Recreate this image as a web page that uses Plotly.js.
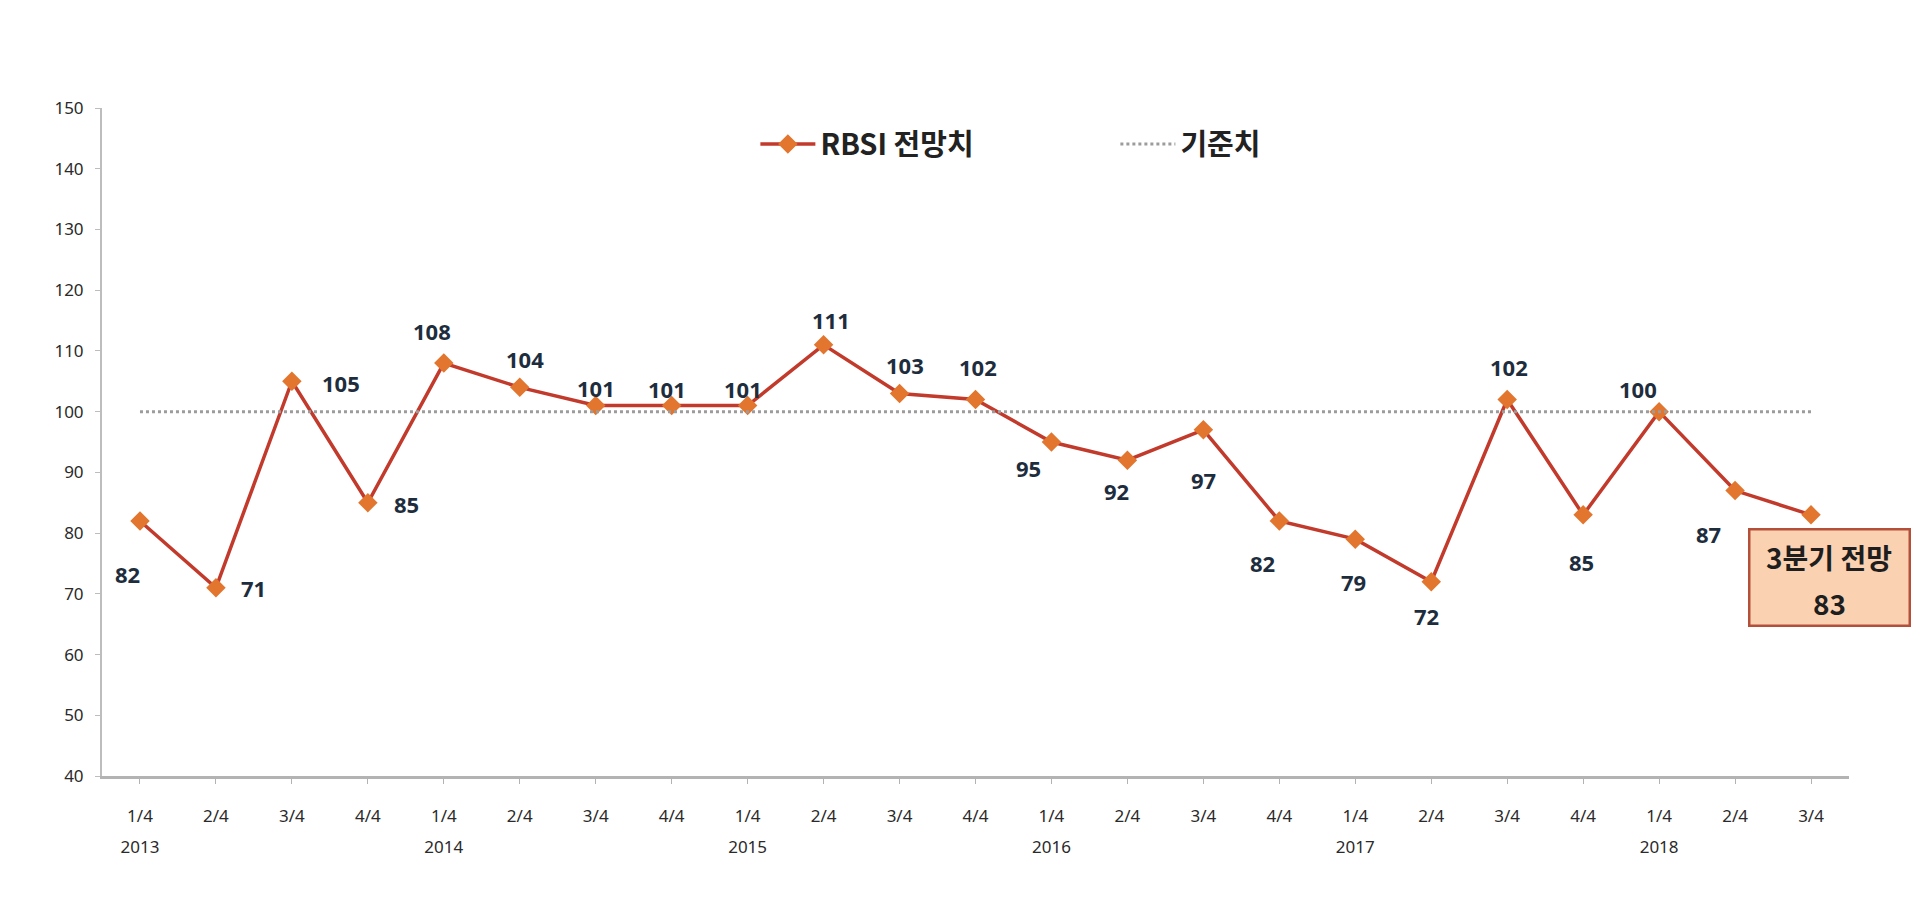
<!DOCTYPE html>
<html>
<head>
<meta charset="utf-8">
<script src="https://cdn.plot.ly/plotly-3.0.1.min.js"></script>
<style>
  html, body { margin: 0; padding: 0; background: #fff; }
  #chart { width: 1920px; height: 904px; }
</style>
</head>
<body>
<div id="chart"></div>
<script>
// quarters, with the year shown under each 1/4
var quarters = ["1/4", "2/4", "3/4", "4/4", "1/4", "2/4", "3/4", "4/4", "1/4", "2/4", "3/4", "4/4",
                "1/4", "2/4", "3/4", "4/4", "1/4", "2/4", "3/4", "4/4", "1/4", "2/4", "3/4"];
var years = ["2013", "", "", "", "2014", "", "", "", "2015", "", "", "",
             "2016", "", "", "", "2017", "", "", "", "2018", "", ""];
var rbsi = [82, 71, 105, 85, 108, 104, 101, 101, 101, 111, 103, 102,
            95, 92, 97, 82, 79, 72, 102, 83, 100, 87, 83];
var rbsiLabels = ["82", "71", "105", "85", "108", "104", "101", "101", "101", "111", "103", "102",
                  "95", "92", "97", "82", "79", "72", "102", "85", "100", "87", ""];
var baseValue = 100;
var outlookTitle = "3분기 전망";
var outlookValue = "83";

// where each value label sits relative to its point (px)
var labelShift = [[-12, -53], [38, 0], [49, -2], [39, -1], [-12, 32], [5, 28], [0, 18], [-5, 17],
                  [-5, 17], [7, 25], [5, 28], [2, 32], [-23, -26], [-11, -31], [0, -50], [-17, -42],
                  [-2, -43], [-5, -34], [2, 32], [-2, -47], [-21, 23], [-27, -43], [0, 0]];

var cats = quarters.map(function(q, i) { return i; });
var yearIdx = [];
years.forEach(function(y, i) { if (y) yearIdx.push(i); });

var trace1 = {
    x: cats,
    y: rbsi,
    type: "scatter",
    mode: "lines+markers",
    name: "RBSI 전망치",
    line: { color: "#C23A2B", width: 3.5 },
    marker: { symbol: "diamond", size: 15, color: "#E2762E" }
};

var trace2 = {
    x: [cats[0], cats[cats.length - 1]],
    y: [baseValue, baseValue],
    type: "scatter",
    mode: "lines",
    name: "기준치",
    line: { color: "#9C9C9C", width: 3, dash: "dot" }
};

// carries the year row on its own x axis, draws nothing
var yearTrace = {
    x: yearIdx,
    y: yearIdx.map(function(i) { return rbsi[i]; }),
    xaxis: "x2",
    type: "scatter",
    mode: "none",
    showlegend: false,
    hoverinfo: "skip"
};

var labelFont = { family: "Noto Sans, Noto Sans CJK KR, sans-serif", size: 22, color: "#1E2D3D", weight: 700 };

var annotations = rbsiLabels.map(function(t, i) {
    return {
        x: cats[i], y: rbsi[i], xref: "x", yref: "y",
        text: "<b>" + t + "</b>", showarrow: false,
        xshift: labelShift[i][0], yshift: labelShift[i][1],
        font: labelFont
    };
}).filter(function(a) { return a.text !== "<b></b>"; });

// outlook box under the last point
var last = cats.length - 1;
var boxFont = { family: "Noto Sans CJK KR, sans-serif", size: 28, color: "#1E1E1E" };
annotations.push({
    x: cats[last], y: rbsi[last], xref: "x", yref: "y",
    text: " ", showarrow: false,
    xshift: 18, yshift: -63,
    width: 150, height: 86,
    bgcolor: "#FAD2B2", bordercolor: "#B4503A", borderwidth: 2.5, borderpad: 4,
    font: boxFont
});
annotations.push({
    x: cats[last], y: rbsi[last], xref: "x", yref: "y",
    text: "<b>" + outlookTitle + "</b>", showarrow: false,
    xshift: 18, yshift: -42, font: boxFont
});
annotations.push({
    x: cats[last], y: rbsi[last], xref: "x", yref: "y",
    text: "<b>" + outlookValue + "</b>", showarrow: false,
    xshift: 18, yshift: -88, font: boxFont
});

var tickFont = { family: "Noto Sans, sans-serif", size: 17, color: "#2A2A2A" };

var layout = {
    width: 1920,
    height: 904,
    margin: { l: 102, r: 71, t: 108, b: 128 },
    paper_bgcolor: "#fff",
    plot_bgcolor: "#fff",
    showlegend: true,
    legend: {
        orientation: "h",
        x: 0.374, y: 0.946, xanchor: "left", yanchor: "middle",
        entrywidth: 290,
        itemwidth: 55,
        font: { family: "Noto Sans CJK KR, sans-serif", size: 29, color: "#222", weight: 700 },
        bgcolor: "rgba(0,0,0,0)"
    },
    xaxis: {
        range: [-0.5, 22.5],
        tickmode: "array",
        tickvals: cats,
        ticktext: quarters,
        showgrid: false,
        zeroline: false,
        showline: true,
        linecolor: "#B3B3B3",
        linewidth: 3,
        ticks: "outside",
        tickson: "boundaries",
        ticklen: 5,
        tickcolor: "#B3B3B3",
        ticklabelstandoff: 18,
        tickfont: tickFont
    },
    xaxis2: {
        overlaying: "x",
        anchor: "y",
        side: "bottom",
        range: [-0.5, 22.5],
        tickmode: "array",
        tickvals: yearIdx,
        ticktext: yearIdx.map(function(i) { return years[i]; }),
        showgrid: false,
        zeroline: false,
        showline: false,
        ticks: "",
        ticklabelstandoff: 59,
        tickfont: tickFont
    },
    yaxis: {
        range: [40, 150],
        dtick: 10,
        showgrid: false,
        zeroline: false,
        showline: true,
        linecolor: "#BDBDBD",
        linewidth: 2,
        ticks: "outside",
        ticklen: 5,
        tickcolor: "#BDBDBD",
        ticklabelstandoff: 8,
        tickfont: tickFont
    },
    annotations: annotations
};

Plotly.newPlot("chart", [trace1, trace2, yearTrace], layout, { displayModeBar: false });
</script>
</body>
</html>
